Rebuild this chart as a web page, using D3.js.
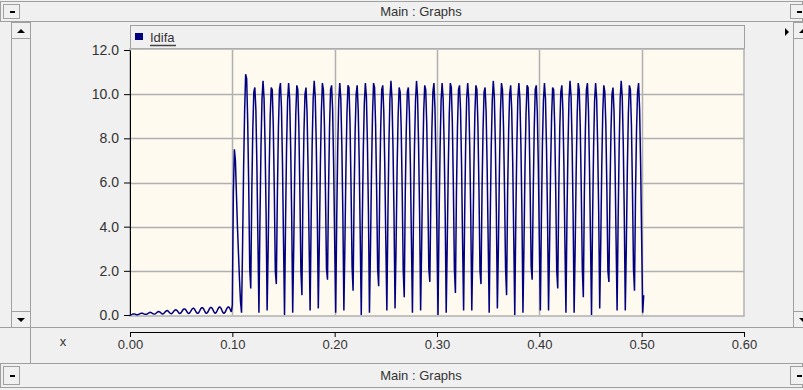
<!DOCTYPE html>
<html>
<head>
<meta charset="utf-8">
<script src="https://cdn.jsdelivr.net/npm/d3@7"></script>
<style>
  body { margin: 0; background: #f0f0f0; }
  svg { display: block; font-family: Arial, "Liberation Sans", sans-serif; }
</style>
</head>
<body>
<div id="chart"></div>
<script>
// samples are stored every millisecond, starting at t = 0
var sampleStep = 0.001;

// 0.000 .. 0.100 s : small pre-fault ripple
var startupIdifa = [
  0.00, 0.01, 0.03, 0.05, 0.05, 0.04, 0.02, 0.01,
  0.02, 0.04, 0.06, 0.08, 0.08, 0.06, 0.04, 0.03,
  0.03, 0.05, 0.08, 0.11, 0.12, 0.10, 0.07, 0.05, 0.04,
  0.06, 0.10, 0.14, 0.16, 0.14, 0.10, 0.06, 0.05,
  0.07, 0.12, 0.17, 0.20, 0.19, 0.14, 0.09, 0.06, 0.07,
  0.12, 0.18, 0.23, 0.24, 0.20, 0.14, 0.08, 0.07,
  0.11, 0.18, 0.25, 0.28, 0.26, 0.20, 0.12, 0.07, 0.08,
  0.14, 0.22, 0.29, 0.31, 0.27, 0.19, 0.11, 0.07,
  0.10, 0.18, 0.27, 0.33, 0.33, 0.27, 0.17, 0.09,
  0.08, 0.13, 0.22, 0.31, 0.35, 0.32, 0.24, 0.14, 0.08,
  0.10, 0.18, 0.28, 0.35, 0.36, 0.30, 0.19, 0.10,
  0.08, 0.13, 0.23, 0.32, 0.37, 0.34, 0.25, 0.14, 0.45
];

// 0.101 .. 0.502 s : after the fault
var faultIdifa = [
  5.5, 7.5, 7.0, 5.5, 4.0, 2.8, 1.6, 0.6,
  0.1, 3.1, 6.6, 9.2, 10.9, 10.7, 8.8, 5.9, 2.1, 1.2, 5.5, 8.4, 10.1, 10.3, 9.3, 6.8, 3.4, 0.1, 4.3, 7.6, 9.8, 10.6, 9.8, 7.7, 4.6,
  0.2, 3.0, 6.5, 9.0, 10.3, 10.2, 8.6, 5.7, 2.0, 1.4, 5.4, 8.4, 10.2, 10.5, 9.4, 6.9, 3.4, 0.0, 4.2, 7.6, 9.7, 10.5, 9.8, 7.6, 4.5,
  0.1, 3.1, 6.6, 9.1, 10.4, 10.2, 8.5, 5.6, 2.0, 0.9, 5.5, 8.3, 10.0, 10.3, 9.2, 6.7, 3.3, 0.2, 4.3, 7.7, 9.8, 10.6, 9.9, 7.8, 4.7,
  0.3, 3.2, 6.7, 9.2, 10.5, 10.2, 8.6, 5.6, 2.1, 1.6, 5.6, 8.5, 10.2, 10.4, 9.3, 6.8, 3.4, 0.1, 4.3, 7.6, 9.7, 10.5, 9.8, 7.7, 4.6,
  0.2, 3.2, 6.6, 9.1, 10.4, 10.3, 8.7, 5.8, 2.2, 1.1, 5.4, 8.3, 10.0, 10.4, 9.3, 6.9, 3.5, 0.0, 4.2, 7.5, 9.6, 10.5, 9.9, 7.8, 4.7,
  0.1, 3.0, 6.5, 9.1, 10.5, 10.3, 8.6, 5.7, 2.1, 1.3, 5.6, 8.5, 10.2, 10.4, 9.2, 6.7, 3.3, 0.2, 4.4, 7.7, 9.8, 10.6, 9.8, 7.6, 4.5,
  0.3, 3.1, 6.6, 9.0, 10.3, 10.1, 8.5, 5.6, 2.0, 0.8, 5.5, 8.4, 10.1, 10.3, 9.2, 6.8, 3.4, 0.1, 4.3, 7.6, 9.7, 10.6, 9.9, 7.7, 4.6,
  0.2, 3.1, 6.7, 9.2, 10.4, 10.2, 8.6, 5.7, 2.1, 1.5, 5.4, 8.4, 10.1, 10.5, 9.4, 6.9, 3.4, 0.0, 4.3, 7.5, 9.7, 10.5, 9.8, 7.7, 4.6,
  0.1, 3.2, 6.6, 9.1, 10.5, 10.3, 8.7, 5.8, 2.1, 1.0, 5.5, 8.5, 10.2, 10.4, 9.3, 6.8, 3.3, 0.2, 4.4, 7.7, 9.8, 10.5, 9.8, 7.6, 4.5,
  0.2, 3.0, 6.5, 9.1, 10.4, 10.2, 8.6, 5.7, 2.0, 1.4, 5.6, 8.4, 10.1, 10.3, 9.2, 6.7, 3.4, 0.1, 4.2, 7.6, 9.7, 10.6, 9.9, 7.8, 4.7,
  0.3, 3.1, 6.6, 9.2, 10.5, 10.2, 8.5, 5.6, 2.1, 0.9, 5.5, 8.3, 10.0, 10.4, 9.3, 6.9, 3.5, 0.0, 4.3, 7.6, 9.8, 10.5, 9.8, 7.7, 4.6,
  0.1, 3.2, 6.7, 9.1, 10.4, 10.3, 8.7, 5.8, 2.2, 1.6, 5.4, 8.4, 10.2, 10.4, 9.2, 6.8, 3.4, 0.2, 4.3, 7.7, 9.7, 10.5, 9.8, 7.6, 4.5,
  0.2, 3.1, 6.6, 9.0, 10.3, 10.2, 8.6, 5.7, 2.0, 1.2, 5.6, 8.5, 10.1, 10.4, 9.3, 6.8, 3.3, 0.1, 4.4, 7.6, 9.8, 10.6, 9.9, 7.8, 4.6,
  0.1, 3.0, 6.5, 9.1, 10.5, 10.2, 8.5, 5.6, 2.1, 0.8, 5.5, 8.4, 10.2, 10.5, 9.3, 6.7, 3.4, 0.0, 4.2, 7.5, 9.7, 10.5, 9.8, 7.7, 4.7,
  0.3, 3.2, 6.7, 9.2, 10.4, 10.1, 8.6, 5.7, 2.0, 1.5, 5.5, 8.3, 10.0, 10.3, 9.2, 6.8, 3.4, 0.2, 4.3, 7.6, 9.8, 10.6, 9.9, 7.8, 4.6,
  0.2, 3.1, 6.6, 9.1, 10.4, 10.2, 8.6, 5.7, 2.1, 1.1, 5.5, 8.4, 10.1, 10.5, 9.3, 6.8, 3.4, 0.1, 0.9
];

var xTicks = [0, 0.1, 0.2, 0.3, 0.4, 0.5, 0.6];
var yTicks = [0, 2, 4, 6, 8, 10, 12];
var seriesName = "Idifa";
var panelTitle = "Main : Graphs";
var xName = "x";

var width = 803,
  height = 390;
var plot = {left: 130, right: 744, top: 50, bottom: 315};
var chrome = "#a0a0a0";
var textColor = "#333";

var idifa = startupIdifa.concat(faultIdifa);

var svg = d3
  .select("#chart")
  .append("svg")
  .attr("width", width)
  .attr("height", height);

svg.append("rect")
  .attr("width", width)
  .attr("height", height)
  .attr("fill", "#f0f0f0");

// window chrome: title bars, scroll bars, buttons
function bar(y, h, label) {
  svg.append("rect")
    .attr("x", 0.5).attr("y", y + 0.5)
    .attr("width", width - 1).attr("height", h)
    .attr("fill", "#f0f0f0").attr("stroke", chrome);
  svg.append("text")
    .attr("x", 421).attr("y", y + h / 2 + 5)
    .attr("text-anchor", "middle")
    .attr("font-size", 13)
    .attr("fill", textColor)
    .text(label);
  [[3, y + 3], [width - 13, y + 3]].forEach(function(p) {
    svg.append("rect")
      .attr("x", p[0] + 0.5).attr("y", p[1] + 0.5)
      .attr("width", 16).attr("height", h - 6)
      .attr("fill", "#f0f0f0").attr("stroke", chrome);
    svg.append("line")
      .attr("x1", p[0] + 7).attr("x2", p[0] + 12)
      .attr("y1", p[1] + (h - 6) / 2 + 1).attr("y2", p[1] + (h - 6) / 2 + 1)
      .attr("stroke", "#000").attr("stroke-width", 2);
  });
}
bar(1, 20, panelTitle);
bar(363, 24, panelTitle);

function scrollBar(x, w) {
  svg.append("rect")
    .attr("x", x + 0.5).attr("y", 22.5)
    .attr("width", w).attr("height", 305)
    .attr("fill", "#f0f0f0").attr("stroke", chrome);
  [22, 311].forEach(function(y, i) {
    svg.append("rect")
      .attr("x", x + 0.5).attr("y", y + 0.5)
      .attr("width", w).attr("height", 16)
      .attr("fill", "#f0f0f0").attr("stroke", chrome);
    var cx = x + 10, cy = y + 9;
    svg.append("path")
      .attr("d", i == 0
        ? "M" + (cx - 4) + "," + (cy + 2) + "L" + (cx + 4) + "," + (cy + 2) + "L" + cx + "," + (cy - 2) + "Z"
        : "M" + (cx - 4) + "," + (cy - 2) + "L" + (cx + 4) + "," + (cy - 2) + "L" + cx + "," + (cy + 2) + "Z")
      .attr("fill", "#000");
  });
}
scrollBar(11, 19);
scrollBar(793, 19);

svg.append("path")
  .attr("d", "M785,28L789,32L785,36Z")
  .attr("fill", "#000");

svg.append("line")
  .attr("x1", 0).attr("x2", width)
  .attr("y1", 327.5).attr("y2", 327.5)
  .attr("stroke", chrome);
svg.append("line")
  .attr("x1", 30.5).attr("x2", 30.5)
  .attr("y1", 328).attr("y2", 363)
  .attr("stroke", chrome);

// legend strip above the plot
svg.append("rect")
  .attr("x", 130.5).attr("y", 25.5)
  .attr("width", 614).attr("height", 23)
  .attr("fill", "#f0f0f0").attr("stroke", chrome);
svg.append("rect")
  .attr("x", 135).attr("y", 33)
  .attr("width", 8).attr("height", 7)
  .attr("fill", "#000080");
svg.append("text")
  .attr("x", 150).attr("y", 42)
  .attr("font-size", 13)
  .attr("fill", textColor)
  .text(seriesName);
svg.append("line")
  .attr("x1", 150).attr("x2", 176)
  .attr("y1", 45.5).attr("y2", 45.5)
  .attr("stroke", "#444").attr("stroke-width", 1.5);

// scales
var xScale = d3.scaleLinear().domain([0, 0.6]).range([plot.left, plot.right]);
var yScale = d3.scaleLinear().domain([0, 12]).range([plot.bottom, plot.top]);

// plot area and grid
svg.append("rect")
  .attr("x", plot.left).attr("y", plot.top - 1)
  .attr("width", plot.right - plot.left).attr("height", plot.bottom - plot.top + 2)
  .attr("fill", "#fffaf0").attr("stroke", "#b0b0b0").attr("stroke-width", 1.5);

svg.append("g")
  .selectAll("line")
  .data(xTicks.slice(1, -1))
  .enter()
  .append("line")
  .attr("x1", function(d) { return Math.round(xScale(d)) + 0.5; })
  .attr("x2", function(d) { return Math.round(xScale(d)) + 0.5; })
  .attr("y1", plot.top).attr("y2", plot.bottom)
  .attr("stroke", "#b0b0b0").attr("stroke-width", 1.5);

svg.append("g")
  .selectAll("line")
  .data(yTicks.slice(1, -1))
  .enter()
  .append("line")
  .attr("x1", plot.left).attr("x2", plot.right)
  .attr("y1", function(d) { return Math.round(yScale(d)) + 0.5; })
  .attr("y2", function(d) { return Math.round(yScale(d)) + 0.5; })
  .attr("stroke", "#b0b0b0").attr("stroke-width", 1.5);

// y axis
var yAxis = svg.append("g")
  .attr("transform", "translate(" + plot.left + ",0)")
  .call(d3.axisLeft(yScale)
    .tickValues(yTicks)
    .tickFormat(d3.format(".1f"))
    .tickSize(6)
    .tickSizeOuter(0)
    .tickPadding(5));
yAxis.selectAll("text").attr("font-size", 14).attr("fill", textColor).attr("font-family", null);
yAxis.select(".domain").attr("stroke", "#000");

// x axis sits below the panel
var xAxis = svg.append("g")
  .attr("transform", "translate(0,332)")
  .call(d3.axisBottom(xScale)
    .tickValues(xTicks)
    .tickFormat(d3.format(".2f"))
    .tickSize(5)
    .tickSizeOuter(5)
    .tickPadding(3));
xAxis.selectAll("text").attr("font-size", 13).attr("fill", textColor).attr("font-family", null);
xAxis.select(".domain").attr("stroke", "#000");

svg.append("text")
  .attr("x", 63).attr("y", 346)
  .attr("text-anchor", "middle")
  .attr("font-size", 13)
  .attr("fill", textColor)
  .text(xName);

// the signal
var line = d3.line()
  .x(function(d, i) { return xScale(i * sampleStep); })
  .y(function(d) { return yScale(d); });

svg.append("path")
  .datum(idifa)
  .attr("d", line)
  .attr("fill", "none")
  .attr("stroke", "#000080")
  .attr("stroke-width", 1.5)
  .attr("stroke-linejoin", "bevel");
</script>
</body>
</html>
